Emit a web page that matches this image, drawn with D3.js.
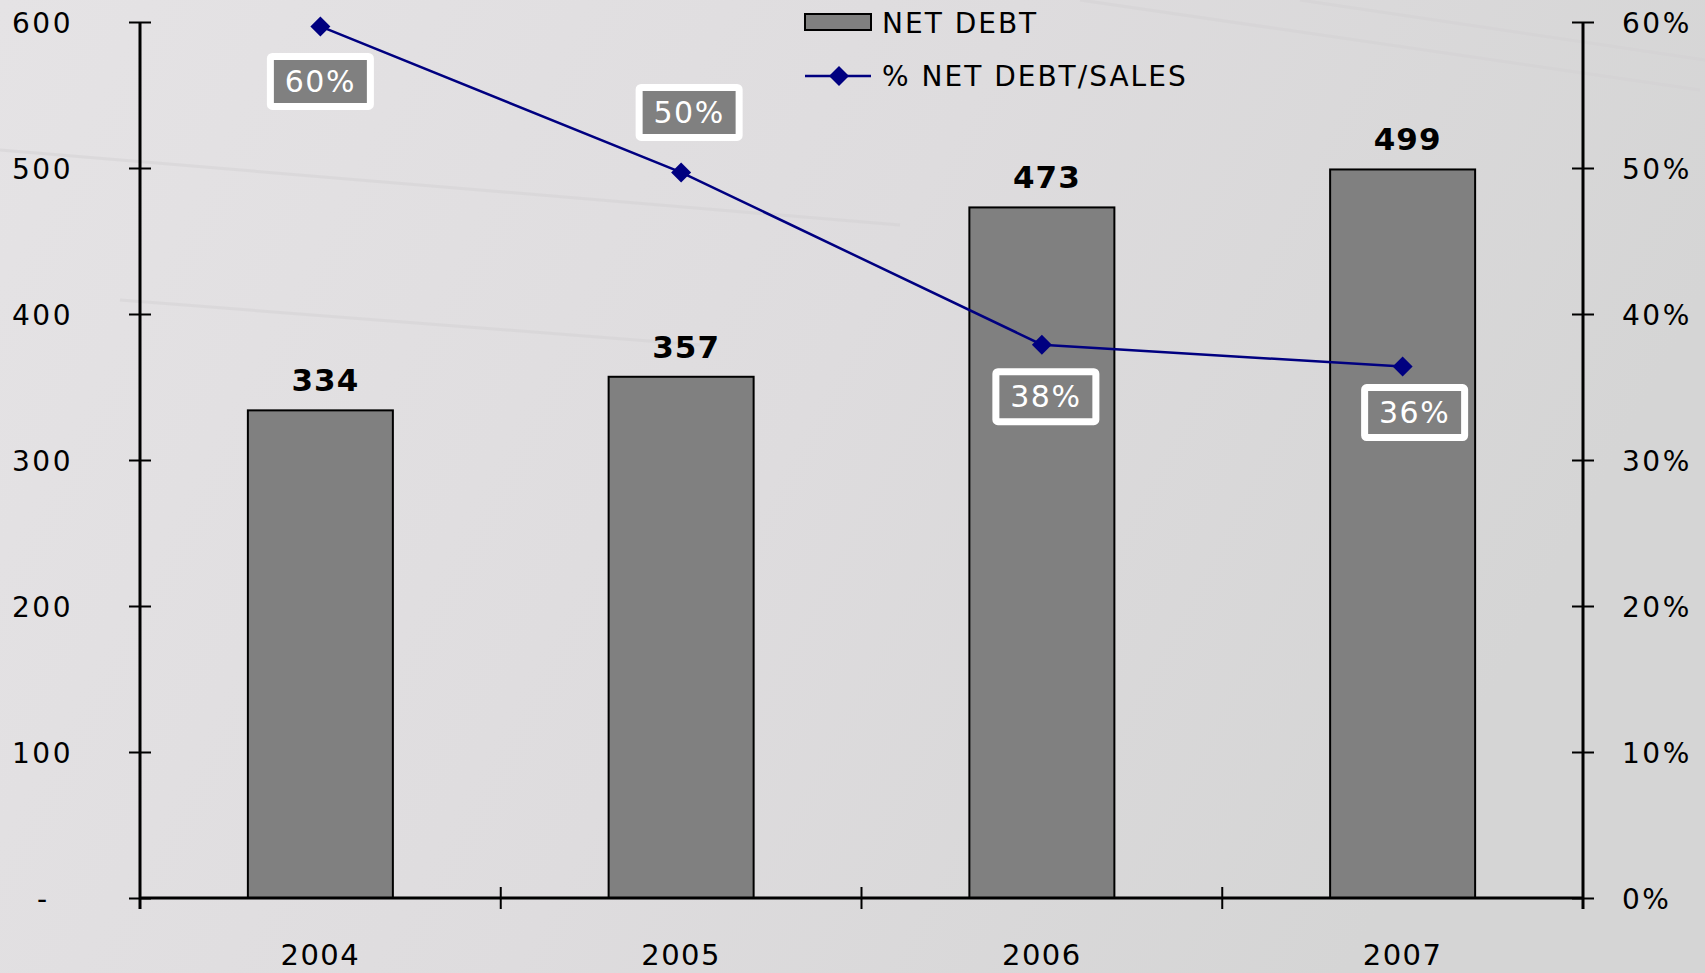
<!DOCTYPE html>
<html>
<head>
<meta charset="utf-8">
<script src="https://cdn.jsdelivr.net/npm/d3@7"></script>
<style>
  body { margin: 0; overflow: hidden; }
  svg { display: block; font-family: "DejaVu Sans", Verdana, sans-serif; }
</style>
</head>
<body>
<svg width="1705" height="973"></svg>
<script>
var years = ["2004", "2005", "2006", "2007"];
var netDebt = [334, 357, 473, 499];
var debtSalesPct = [59.7, 49.7, 37.9, 36.4];
var pctLabels = ["60%", "50%", "38%", "36%"];
var leftTicks = [0, 100, 200, 300, 400, 500, 600];
var rightTicks = [0, 10, 20, 30, 40, 50, 60];

// where each % box sits relative to its point (dx, dy)
var labelOffset = [[0, 55], [8, -60], [4, 52], [12, 46]];

var svg = d3.select("svg"),
    width = +svg.attr("width"),
    height = +svg.attr("height");

var margin = {left: 140, right: 122, top: 22, bottom: 75};
var x0 = margin.left, x1 = width - margin.right;
var yTop = margin.top, yBot = height - margin.bottom;

// background
var defs = svg.append("defs");
var grad = defs.append("linearGradient").attr("id", "bg")
    .attr("x1", "0").attr("y1", "0").attr("x2", "1").attr("y2", "0.3");
grad.append("stop").attr("offset", "0").attr("stop-color", "#e5e3e5");
grad.append("stop").attr("offset", "0.55").attr("stop-color", "#dedcde");
grad.append("stop").attr("offset", "1").attr("stop-color", "#d5d5d5");
svg.append("rect").attr("width", width).attr("height", height).attr("fill", "url(#bg)");

// faint streaks in the paper
var streaks = [[0, 150, 900, 225], [120, 300, 700, 345], [1080, 0, 1700, 90], [1300, 0, 1705, 60]];
svg.append("g").selectAll("line").data(streaks).enter().append("line")
    .attr("x1", function(d) { return d[0]; }).attr("y1", function(d) { return d[1]; })
    .attr("x2", function(d) { return d[2]; }).attr("y2", function(d) { return d[3]; })
    .attr("stroke", "#d4d2d4").attr("stroke-width", 3).attr("opacity", 0.5);

var x = d3.scaleBand().domain(years).range([x0, x1]).padding(0);
var y = d3.scaleLinear().domain([0, 600]).range([yBot, yTop]);
var y2 = d3.scaleLinear().domain([0, 60]).range([yBot, yTop]);
var barW = 145;

// bars
svg.append("g").selectAll("rect")
    .data(netDebt)
    .enter().append("rect")
    .attr("x", function(d, i) { return x(years[i]) + x.bandwidth() / 2 - barW / 2; })
    .attr("y", function(d) { return y(d); })
    .attr("width", barW)
    .attr("height", function(d) { return yBot - y(d); })
    .attr("fill", "#808080")
    .attr("stroke", "#000")
    .attr("stroke-width", 2);

// bar values
svg.append("g").selectAll("text")
    .data(netDebt)
    .enter().append("text")
    .attr("x", function(d, i) { return x(years[i]) + x.bandwidth() / 2 + 5; })
    .attr("y", function(d) { return y(d) - 19; })
    .attr("text-anchor", "middle")
    .attr("font-size", 31)
    .attr("font-weight", "bold")
    .attr("letter-spacing", 1)
    .attr("fill", "#000")
    .text(function(d) { return d; });

// axes
var leftAxis = d3.axisLeft(y).tickValues(leftTicks).tickSize(11)
    .tickFormat(function(d) { return d === 0 ? "-" : d; });
var gl = svg.append("g").attr("transform", "translate(" + x0 + ",0)").call(leftAxis);
gl.select(".domain").remove();
gl.selectAll(".tick line").attr("x2", 11).attr("x1", -11);
gl.selectAll(".tick text").attr("x", -128).attr("text-anchor", "start");
gl.selectAll(".tick").filter(function(d) { return d === 0; }).select("text").attr("x", -103);

var rightAxis = d3.axisRight(y2).tickValues(rightTicks).tickSize(11)
    .tickFormat(function(d) { return d + "%"; });
var gr = svg.append("g").attr("transform", "translate(" + x1 + ",0)").call(rightAxis);
gr.select(".domain").remove();
gr.selectAll(".tick line").attr("x1", -11).attr("x2", 11);
gr.selectAll(".tick text").attr("x", 39).attr("text-anchor", "start");

[gl, gr].forEach(function(g) {
  g.attr("font-family", null).attr("font-size", null);
  g.selectAll(".tick line").attr("stroke", "#000").attr("stroke-width", 2);
  g.selectAll(".tick text").attr("fill", "#000").attr("font-size", 28)
      .attr("letter-spacing", 2.5).attr("dy", "0.36em");
});

// vertical axis lines
svg.append("line").attr("x1", x0).attr("x2", x0).attr("y1", yTop).attr("y2", yBot + 11)
    .attr("stroke", "#000").attr("stroke-width", 3);
svg.append("line").attr("x1", x1).attr("x2", x1).attr("y1", yTop).attr("y2", yBot + 11)
    .attr("stroke", "#000").attr("stroke-width", 3);

// bottom axis
var bottomAxis = d3.axisBottom(x).tickSize(0);
var gb = svg.append("g").attr("transform", "translate(0," + yBot + ")").call(bottomAxis);
gb.attr("font-family", null).attr("font-size", null);
gb.select(".domain").attr("stroke", "#000").attr("stroke-width", 3).attr("d", "M" + x0 + ",0H" + x1);
gb.selectAll(".tick text").attr("fill", "#000").attr("font-size", 29)
    .attr("letter-spacing", 1.5).attr("y", 67).attr("dy", 0);
// category separators
svg.append("g").selectAll("line")
    .data(years.slice(1))
    .enter().append("line")
    .attr("x1", function(d) { return x(d); }).attr("x2", function(d) { return x(d); })
    .attr("y1", yBot - 11).attr("y2", yBot + 11)
    .attr("stroke", "#000").attr("stroke-width", 2);

// line series
var line = d3.line()
    .x(function(d, i) { return x(years[i]) + x.bandwidth() / 2; })
    .y(function(d) { return y2(d); });

svg.append("path")
    .datum(debtSalesPct)
    .attr("d", line)
    .attr("fill", "none")
    .attr("stroke", "#000080")
    .attr("stroke-width", 2.5);

var diamond = d3.symbol().type(d3.symbolSquare).size(200);
svg.append("g").selectAll("path")
    .data(debtSalesPct)
    .enter().append("path")
    .attr("d", diamond)
    .attr("fill", "#000080")
    .attr("transform", function(d, i) {
      return "translate(" + (x(years[i]) + x.bandwidth() / 2) + "," + y2(d) + ") rotate(45)";
    });

// % boxes
var lab = svg.append("g").selectAll("g")
    .data(debtSalesPct)
    .enter().append("g")
    .attr("transform", function(d, i) {
      var cx = x(years[i]) + x.bandwidth() / 2 + labelOffset[i][0];
      var cy = y2(d) + labelOffset[i][1];
      return "translate(" + cx + "," + cy + ")";
    });
lab.append("rect")
    .attr("x", -50).attr("y", -25).attr("width", 100).attr("height", 50)
    .attr("rx", 2)
    .attr("fill", "#808080")
    .attr("stroke", "#fff")
    .attr("stroke-width", 7);
lab.append("text")
    .attr("text-anchor", "middle")
    .attr("dy", "0.36em")
    .attr("font-size", 30)
    .attr("letter-spacing", 1.5)
    .attr("fill", "#fff")
    .text(function(d, i) { return pctLabels[i]; });

// legend
var leg = svg.append("g").attr("transform", "translate(805,0)");
leg.append("rect").attr("x", 0).attr("y", 14).attr("width", 66).attr("height", 16)
    .attr("fill", "#808080").attr("stroke", "#000").attr("stroke-width", 2);
leg.append("text").attr("x", 77).attr("y", 33).attr("font-size", 28)
    .attr("letter-spacing", 2).attr("fill", "#000").text("NET DEBT");
leg.append("line").attr("x1", 0).attr("x2", 66).attr("y1", 76).attr("y2", 76)
    .attr("stroke", "#000080").attr("stroke-width", 2.5);
leg.append("path").attr("d", diamond).attr("fill", "#000080")
    .attr("transform", "translate(34,76) rotate(45)");
leg.append("text").attr("x", 77).attr("y", 86).attr("font-size", 28)
    .attr("letter-spacing", 2).attr("fill", "#000").text("% NET DEBT/SALES");
</script>
</body>
</html>
